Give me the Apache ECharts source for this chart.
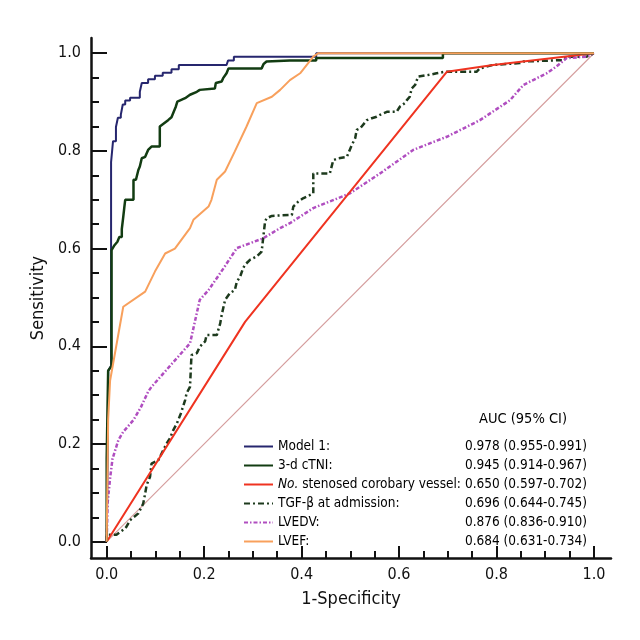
<!DOCTYPE html>
<html>
<head>
<meta charset="utf-8">
<script src="https://cdn.jsdelivr.net/npm/echarts@6/dist/echarts.min.js"></script>
<style>html,body{margin:0;padding:0;background:#fff}#c{width:640px;height:640px}</style>
</head>
<body>
<div id="c"></div>
<script>
const FONT = "'Liberation Sans Narrow', 'DejaVu Sans Condensed', sans-serif";

const seriesNames = ['Model 1:', '3-d cTNI:', 'No. stenosed corobary vessel:', 'TGF-\u03b2 at admission:', 'LVEDV:', 'LVEF:'];
const aucText = ['0.978 (0.955-0.991)', '0.945 (0.914-0.967)', '0.650 (0.597-0.702)', '0.696 (0.644-0.745)', '0.876 (0.836-0.910)', '0.684 (0.631-0.734)'];

const xMajorTicks = [0, 0.2, 0.4, 0.6, 0.8, 1.0];
const xMinorTicks = [0.05, 0.1, 0.15, 0.25, 0.3, 0.35, 0.45, 0.5, 0.55, 0.65, 0.7, 0.75, 0.85, 0.9, 0.95];
const yMajorTicks = [0, 0.2, 0.4, 0.6, 0.8, 1.0];
const yMinorTicks = [0.05, 0.1, 0.15, 0.25, 0.3, 0.35, 0.45, 0.5, 0.55, 0.65, 0.7, 0.75, 0.85, 0.9, 0.95];

const diagonal = [[0, 0], [1, 1]];

const model1 = [[0,0],[0.002,0.17],[0.003,0.35],[0.009,0.36],[0.009,0.777],[0.013,0.777],[0.013,0.82],[0.019,0.82],[0.019,0.849],[0.023,0.849],[0.023,0.868],[0.029,0.868],[0.029,0.874],[0.033,0.874],[0.033,0.895],[0.038,0.895],[0.038,0.903],[0.048,0.903],[0.048,0.909],[0.068,0.909],[0.068,0.921],[0.072,0.921],[0.072,0.939],[0.085,0.939],[0.085,0.947],[0.099,0.947],[0.099,0.954],[0.115,0.954],[0.115,0.96],[0.133,0.96],[0.133,0.967],[0.148,0.967],[0.148,0.976],[0.246,0.976],[0.246,0.98],[0.249,0.98],[0.249,0.985],[0.261,0.985],[0.261,0.993],[0.43,0.993],[0.43,1],[1,1]];

const ctni = [[0,0],[0,0.17],[0.003,0.17],[0.003,0.35],[0.01,0.36],[0.01,0.597],[0.0135,0.597],[0.016,0.607],[0.02,0.607],[0.022,0.614],[0.024,0.614],[0.026,0.624],[0.031,0.624],[0.031,0.64],[0.034,0.665],[0.036,0.683],[0.038,0.70],[0.055,0.70],[0.055,0.741],[0.06,0.741],[0.065,0.761],[0.068,0.768],[0.072,0.785],[0.079,0.788],[0.085,0.802],[0.092,0.809],[0.109,0.809],[0.109,0.85],[0.126,0.863],[0.133,0.869],[0.142,0.891],[0.145,0.901],[0.161,0.908],[0.171,0.915],[0.185,0.921],[0.191,0.925],[0.222,0.928],[0.224,0.939],[0.236,0.942],[0.239,0.949],[0.246,0.959],[0.25,0.969],[0.318,0.969],[0.322,0.978],[0.328,0.983],[0.376,0.985],[0.43,0.985],[0.43,0.99],[0.505,0.99],[0.505,0.993],[0.51,0.99],[0.69,0.99],[0.69,1],[1,1]];

const vessel = [[0,0],[0.284,0.45],[0.698,0.962],[0.793,0.976],[1,1]];

const tgf = [[0,0],[0,0.014],[0.02,0.014],[0.028,0.02],[0.035,0.025],[0.04,0.03],[0.048,0.044],[0.065,0.058],[0.072,0.072],[0.075,0.078],[0.079,0.099],[0.082,0.116],[0.089,0.133],[0.092,0.16],[0.106,0.167],[0.113,0.181],[0.123,0.201],[0.13,0.212],[0.137,0.229],[0.144,0.242],[0.152,0.262],[0.161,0.29],[0.164,0.304],[0.171,0.317],[0.174,0.382],[0.185,0.386],[0.191,0.399],[0.202,0.41],[0.205,0.423],[0.226,0.423],[0.233,0.447],[0.236,0.464],[0.243,0.495],[0.253,0.509],[0.263,0.515],[0.267,0.532],[0.274,0.543],[0.28,0.56],[0.284,0.567],[0.294,0.577],[0.308,0.584],[0.318,0.594],[0.321,0.597],[0.325,0.655],[0.328,0.662],[0.339,0.667],[0.38,0.669],[0.383,0.686],[0.393,0.696],[0.403,0.703],[0.424,0.713],[0.424,0.754],[0.458,0.754],[0.465,0.781],[0.475,0.785],[0.493,0.788],[0.503,0.812],[0.51,0.826],[0.513,0.843],[0.52,0.846],[0.534,0.863],[0.544,0.867],[0.554,0.87],[0.561,0.874],[0.575,0.88],[0.595,0.88],[0.602,0.891],[0.612,0.898],[0.616,0.904],[0.622,0.911],[0.626,0.928],[0.633,0.935],[0.639,0.952],[0.663,0.956],[0.677,0.959],[0.694,0.962],[0.759,0.962],[0.766,0.969],[0.793,0.976],[0.848,0.98],[0.855,0.983],[0.937,0.986],[0.944,0.993],[0.985,0.993],[1,1]];

const lvedv = [[0,0],[0.002,0.08],[0.003,0.082],[0.007,0.13],[0.012,0.17],[0.024,0.208],[0.034,0.225],[0.055,0.249],[0.07,0.275],[0.085,0.307],[0.092,0.317],[0.13,0.36],[0.171,0.406],[0.191,0.495],[0.209,0.515],[0.24,0.56],[0.267,0.601],[0.321,0.621],[0.356,0.642],[0.376,0.652],[0.424,0.683],[0.499,0.713],[0.561,0.754],[0.629,0.802],[0.698,0.829],[0.766,0.863],[0.828,0.904],[0.855,0.935],[0.903,0.959],[0.923,0.973],[0.944,0.99],[0.985,0.993],[1,1]];

const lvef = [[0,0],[0.003,0.25],[0.007,0.33],[0.034,0.481],[0.079,0.512],[0.099,0.553],[0.12,0.59],[0.14,0.60],[0.171,0.642],[0.178,0.659],[0.209,0.686],[0.215,0.70],[0.226,0.741],[0.243,0.758],[0.263,0.799],[0.287,0.85],[0.308,0.898],[0.339,0.911],[0.356,0.925],[0.376,0.945],[0.397,0.959],[0.424,0.993],[0.434,1],[1,1]];

const seriesData = [model1, ctni, vessel, tgf, lvedv, lvef];
const colors = ['#26266e', '#123c12', '#ef3320', '#1d3a1d', '#b04ec0', '#f8a05c'];
const widths = [2, 2.5, 2, 2.5, 2.5, 2];
const dashes = ['solid', 'solid', 'solid', [6, 3, 2, 3], [4, 2, 1.5, 2], 'solid'];
const zs = [4, 5, 3, 2, 2, 6];

const LEG_FS = 13.5;
const COL_W = 187;
const ctx = document.createElement('canvas').getContext('2d');
ctx.font = 'italic ' + LEG_FS + 'px ' + FONT;
const noW = ctx.measureText('No.').width;

const chart = echarts.init(document.getElementById('c'), null, { renderer: 'canvas' });

const series = [{
  name: 'ref', type: 'line', data: diagonal, symbol: 'none', silent: true, z: 1,
  lineStyle: { color: '#d49c9c', width: 1.1 }
}];
seriesData.forEach((d, i) => {
  series.push({
    name: seriesNames[i], type: 'line', data: d, symbol: 'none', showSymbol: false, z: zs[i],
    color: colors[i],
    lineStyle: { color: colors[i], width: widths[i], type: dashes[i] }
  });
});

const axisCommon = { type: 'value', splitLine: { show: false } };

chart.setOption({
  animation: false,
  backgroundColor: '#fff',
  textStyle: { fontFamily: FONT },
  grid: { left: 91, right: 29, top: 38, bottom: 82 },
  title: {
    text: 'AUC (95% CI)', left: 479, top: 412, padding: 0,
    textStyle: { fontFamily: FONT, fontSize: 14.5, fontWeight: 'normal', color: '#000' }
  },
  legend: {
    data: seriesNames, orient: 'vertical', left: 243, top: 437,
    itemWidth: 29, itemHeight: 14, itemGap: 0, padding: 0,
    itemStyle: { color: 'rgba(0,0,0,0)', borderWidth: 0, opacity: 0 },
    formatter: function (name) {
      const i = seriesNames.indexOf(name);
      if (i === 2) {
        return '{i|No.}{n2| stenosed corobary vessel:}{v|' + aucText[i] + '}';
      }
      return '{n|' + name + '}{v|' + aucText[i] + '}';
    },
    textStyle: {
      fontFamily: FONT, fontSize: LEG_FS, color: '#000', lineHeight: 19,
      rich: {
        n: { width: COL_W, fontFamily: FONT, fontSize: LEG_FS, color: '#000' },
        i: { fontStyle: 'italic', fontFamily: FONT, fontSize: LEG_FS, color: '#000' },
        n2: { width: COL_W - noW, fontFamily: FONT, fontSize: LEG_FS, color: '#000' },
        v: { fontFamily: FONT, fontSize: LEG_FS, color: '#000' }
      }
    }
  },
  xAxis: [Object.assign({}, axisCommon, {
    min: -0.0322, max: 1.035, position: 'bottom',
    name: '1-Specificity', nameLocation: 'middle', nameGap: 32,
    nameTextStyle: { fontFamily: FONT, fontSize: 18, color: '#111' },
    axisLine: { show: true, onZero: false, lineStyle: { color: '#111', width: 2.5 } },
    axisTick: { show: true, inside: true, length: 12, customValues: xMajorTicks, lineStyle: { color: '#111', width: 2 } },
    axisLabel: { show: true, margin: 9, customValues: xMajorTicks, fontFamily: FONT, fontSize: 16, color: '#111',
      formatter: v => v.toFixed(1) }
  }), Object.assign({}, axisCommon, {
    min: -0.0322, max: 1.035, position: 'bottom',
    axisLine: { show: false, onZero: false },
    axisTick: { show: true, inside: true, length: 7, customValues: xMinorTicks, lineStyle: { color: '#111', width: 2 } },
    axisLabel: { show: false }
  })],
  yAxis: [Object.assign({}, axisCommon, {
    min: -0.0334, max: 1.0312, position: 'left',
    name: 'Sensitivity', nameLocation: 'middle', nameGap: 42,
    nameTextStyle: { fontFamily: FONT, fontSize: 18, color: '#111' },
    axisLine: { show: true, onZero: false, lineStyle: { color: '#111', width: 2.5 } },
    axisTick: { show: true, inside: true, length: 16, customValues: yMajorTicks, lineStyle: { color: '#111', width: 2 } },
    axisLabel: { show: true, margin: 10, customValues: yMajorTicks, fontFamily: FONT, fontSize: 16, color: '#111',
      formatter: v => v.toFixed(1) }
  }), Object.assign({}, axisCommon, {
    min: -0.0334, max: 1.0312, position: 'left',
    axisLine: { show: false, onZero: false },
    axisTick: { show: true, inside: true, length: 8, customValues: yMinorTicks, lineStyle: { color: '#111', width: 2 } },
    axisLabel: { show: false }
  })],
  series: series
});
</script>
</body>
</html>
